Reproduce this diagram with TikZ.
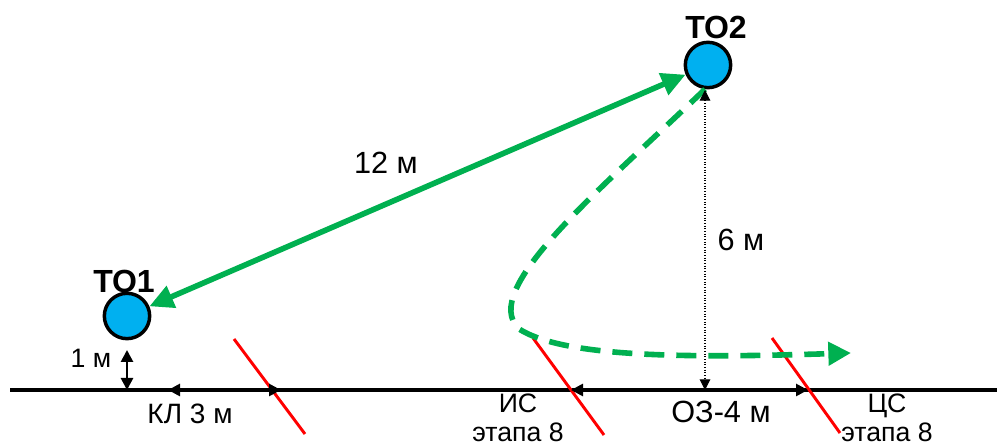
\documentclass[tikz,border=0pt]{standalone}
\usepackage{fontspec}
\setmainfont{Liberation Sans}
\usetikzlibrary{arrows.meta, positioning}
\definecolor{togreen}{HTML}{00B050}
\definecolor{toblue}{HTML}{00B0F0}

\begin{document}
\begin{tikzpicture}[
    x=0.75pt, y=-0.75pt,
    point/.style={circle, draw, line width=2.6pt, fill=toblue, minimum size=34pt, inner sep=0pt},
    totext/.style={font=\fontsize{24}{24}\selectfont\bfseries, inner sep=0pt},
    dimtext/.style={font=\fontsize{20}{21.5}\selectfont, align=center, inner sep=0pt},
    route/.style={{Triangle[length=18pt,width=17pt]}-{Triangle[length=18pt,width=17pt]}, line width=4.2pt, togreen},
    detour/.style={-{Triangle[length=17pt,width=17pt]}, line width=4.2pt, togreen, dash pattern=on 15pt off 9pt},
    dim/.style={{Triangle[length=9pt,width=9pt]}-{Triangle[length=9pt,width=9pt]}, line width=2pt},
    gap/.style={{Triangle[length=8pt,width=8pt]}-{Triangle[length=8pt,width=8pt]}, dash pattern=on 0.8pt off 1.2pt, line width=0.8pt},
    cut/.style={red, line width=2.2pt}
  ]
  \useasboundingbox (0,0) rectangle (997,448);

  % track
  \coordinate (lstart) at (10,390);
  \coordinate (lend) at (997,390);
  \draw[line width=3pt] (lstart) -- (lend);

  % points
  \node[point] (to1) at (127,316) {};
  \node[point] (to2) at (708,65) {};
  \node[totext] (to1t) at (124,281) {ТО1};
  \node[totext] (to2t) at (716,27) {ТО2};

  % red cuts
  \coordinate (c1a) at (234,339); \coordinate (c1b) at (305,434);
  \coordinate (c2a) at (533,338); \coordinate (c2b) at (604,435);
  \coordinate (c3a) at (772,338); \coordinate (c3b) at (840,433);
  \draw[cut] (c1a) -- (c1b);
  \draw[cut] (c2a) -- (c2b);
  \draw[cut] (c3a) -- (c3b);

  % routes
  \draw[route] (to1) -- (to2);
  \node[dimtext, font=\fontsize{23}{23}\selectfont] (len) at (386,163) {12 м};
  \coordinate (turn) at (519,329);
  \coordinate (goal) at (851,353);
  \draw[detour] (to2.-97) .. controls (600,190) and (478,290) .. (turn)
    .. controls (565,358) and (690,358) .. (goal);

  % distances
  \coordinate (to2foot) at (705,390);
  \coordinate (to2top) at (705,90);
  \draw[gap] (to2top) -- (to2foot);
  \node[dimtext, font=\fontsize{23}{23}\selectfont] (h6) at (741,240) {6 м};

  \coordinate (to1top) at (127,350);
  \coordinate (to1foot) at (127,390);
  \draw[dim] (to1top) -- (to1foot);
  \node[dimtext] (h1) at (91,358) {1 м};

  \coordinate (kla) at (168,390); \coordinate (klb) at (281,390);
  \draw[dim] (kla) -- (klb);
  \node[dimtext, font=\fontsize{21}{21}\selectfont] (kl) at (190,414) {КЛ 3 м};

  \coordinate (oza) at (571,390); \coordinate (ozb) at (808,390);
  \draw[dim] (oza) -- (ozb);
  \node[dimtext, font=\fontsize{23}{23}\selectfont] (oz) at (721,412) {ОЗ-4 м};

  \node[dimtext] (is) at (518,418) {ИС\\этапа 8};
  \node[dimtext] (cs) at (887,418) {ЦС\\этапа 8};
\end{tikzpicture}
\end{document}
